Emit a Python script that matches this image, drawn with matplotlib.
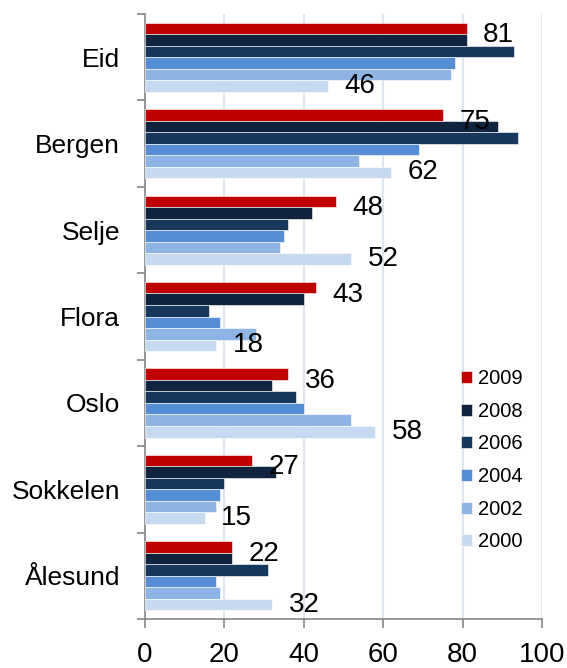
import matplotlib
matplotlib.use("Agg")
import matplotlib.pyplot as plt
import numpy as np

categories = ["Eid", "Bergen", "Selje", "Flora", "Oslo", "Sokkelen", "Ålesund"]
series_names = ["2009", "2008", "2006", "2004", "2002", "2000"]
v2009 = [81, 75, 48, 43, 36, 27, 22]
v2008 = [81, 89, 42, 40, 32, 33, 22]
v2006 = [93, 94, 36, 16, 38, 20, 31]
v2004 = [78, 69, 35, 19, 40, 19, 18]
v2002 = [77, 54, 34, 28, 52, 18, 19]
v2000 = [46, 62, 52, 18, 58, 15, 32]
colors = ["#C00000", "#10243F", "#17375D", "#558ED5", "#8EB4E3", "#C6D9F1"]
xticks = [0, 20, 40, 60, 80, 100]

plt.rcParams['font.family'] = ['Liberation Sans', 'DejaVu Sans']

W, H = 567, 668
fig = plt.figure(figsize=(W/100, H/100), dpi=100)
ax_left, ax_right, ax_top, ax_bottom = 145, 542, 14, 619
ax = fig.add_axes([ax_left/W, 1-ax_bottom/H, (ax_right-ax_left)/W, (ax_bottom-ax_top)/H])

data = [v2009, v2008, v2006, v2004, v2002, v2000]
n = len(series_names)
group = 0.8
h = group / n
y = np.arange(len(categories))
for i, (vals, c, name) in enumerate(zip(data, colors, series_names)):
    pos = y - group/2 + h*(i+0.5)
    ax.barh(pos, vals, height=h, color=c, edgecolor='white', linewidth=0.4, label=name, zorder=3)
    if name == "2009":
        for p, v in zip(pos, vals):
            ax.annotate(str(v), (v, p), xytext=(12, -5), textcoords='offset points',
                        ha='left', va='center', fontsize=20, color='black', zorder=4)
    if name == "2000":
        for p, v in zip(pos, vals):
            ax.annotate(str(v), (v, p), xytext=(12, 0), textcoords='offset points',
                        ha='left', va='center', fontsize=20, color='black', zorder=4)

ax.set_xlim(0, 100)
ax.set_ylim(len(categories)-0.5, -0.5)
ax.set_xticks(xticks)
ax.set_xticklabels([str(t) for t in xticks], fontsize=20)
ax.set_yticks(y)
ax.set_yticklabels(categories, fontsize=19)
ax.set_yticks(np.arange(-0.5, len(categories), 1), minor=True)
ax.tick_params(axis='y', which='major', length=0, pad=18)
ax.tick_params(axis='y', which='minor', length=6, color='#868686', direction='out', width=1.2)
ax.tick_params(axis='x', which='major', length=6.3, color='#868686', direction='out', width=1.2, pad=10)
ax.grid(axis='x', color='#DCE6F2', linewidth=1.5, zorder=0)
for s in ['top', 'right']:
    ax.spines[s].set_visible(False)
for s in ['left', 'bottom']:
    ax.spines[s].set_color('#868686')
    ax.spines[s].set_linewidth(1.2)

leg = ax.legend(loc='upper left', bbox_to_anchor=(461/W, 1-369/H), bbox_transform=fig.transFigure,
                frameon=False, borderpad=0, borderaxespad=0,
                fontsize=14.5, handlelength=0.55, handleheight=0.55, handletextpad=0.3,
                labelspacing=0.68)

fig.savefig("out.png", dpi=100)
